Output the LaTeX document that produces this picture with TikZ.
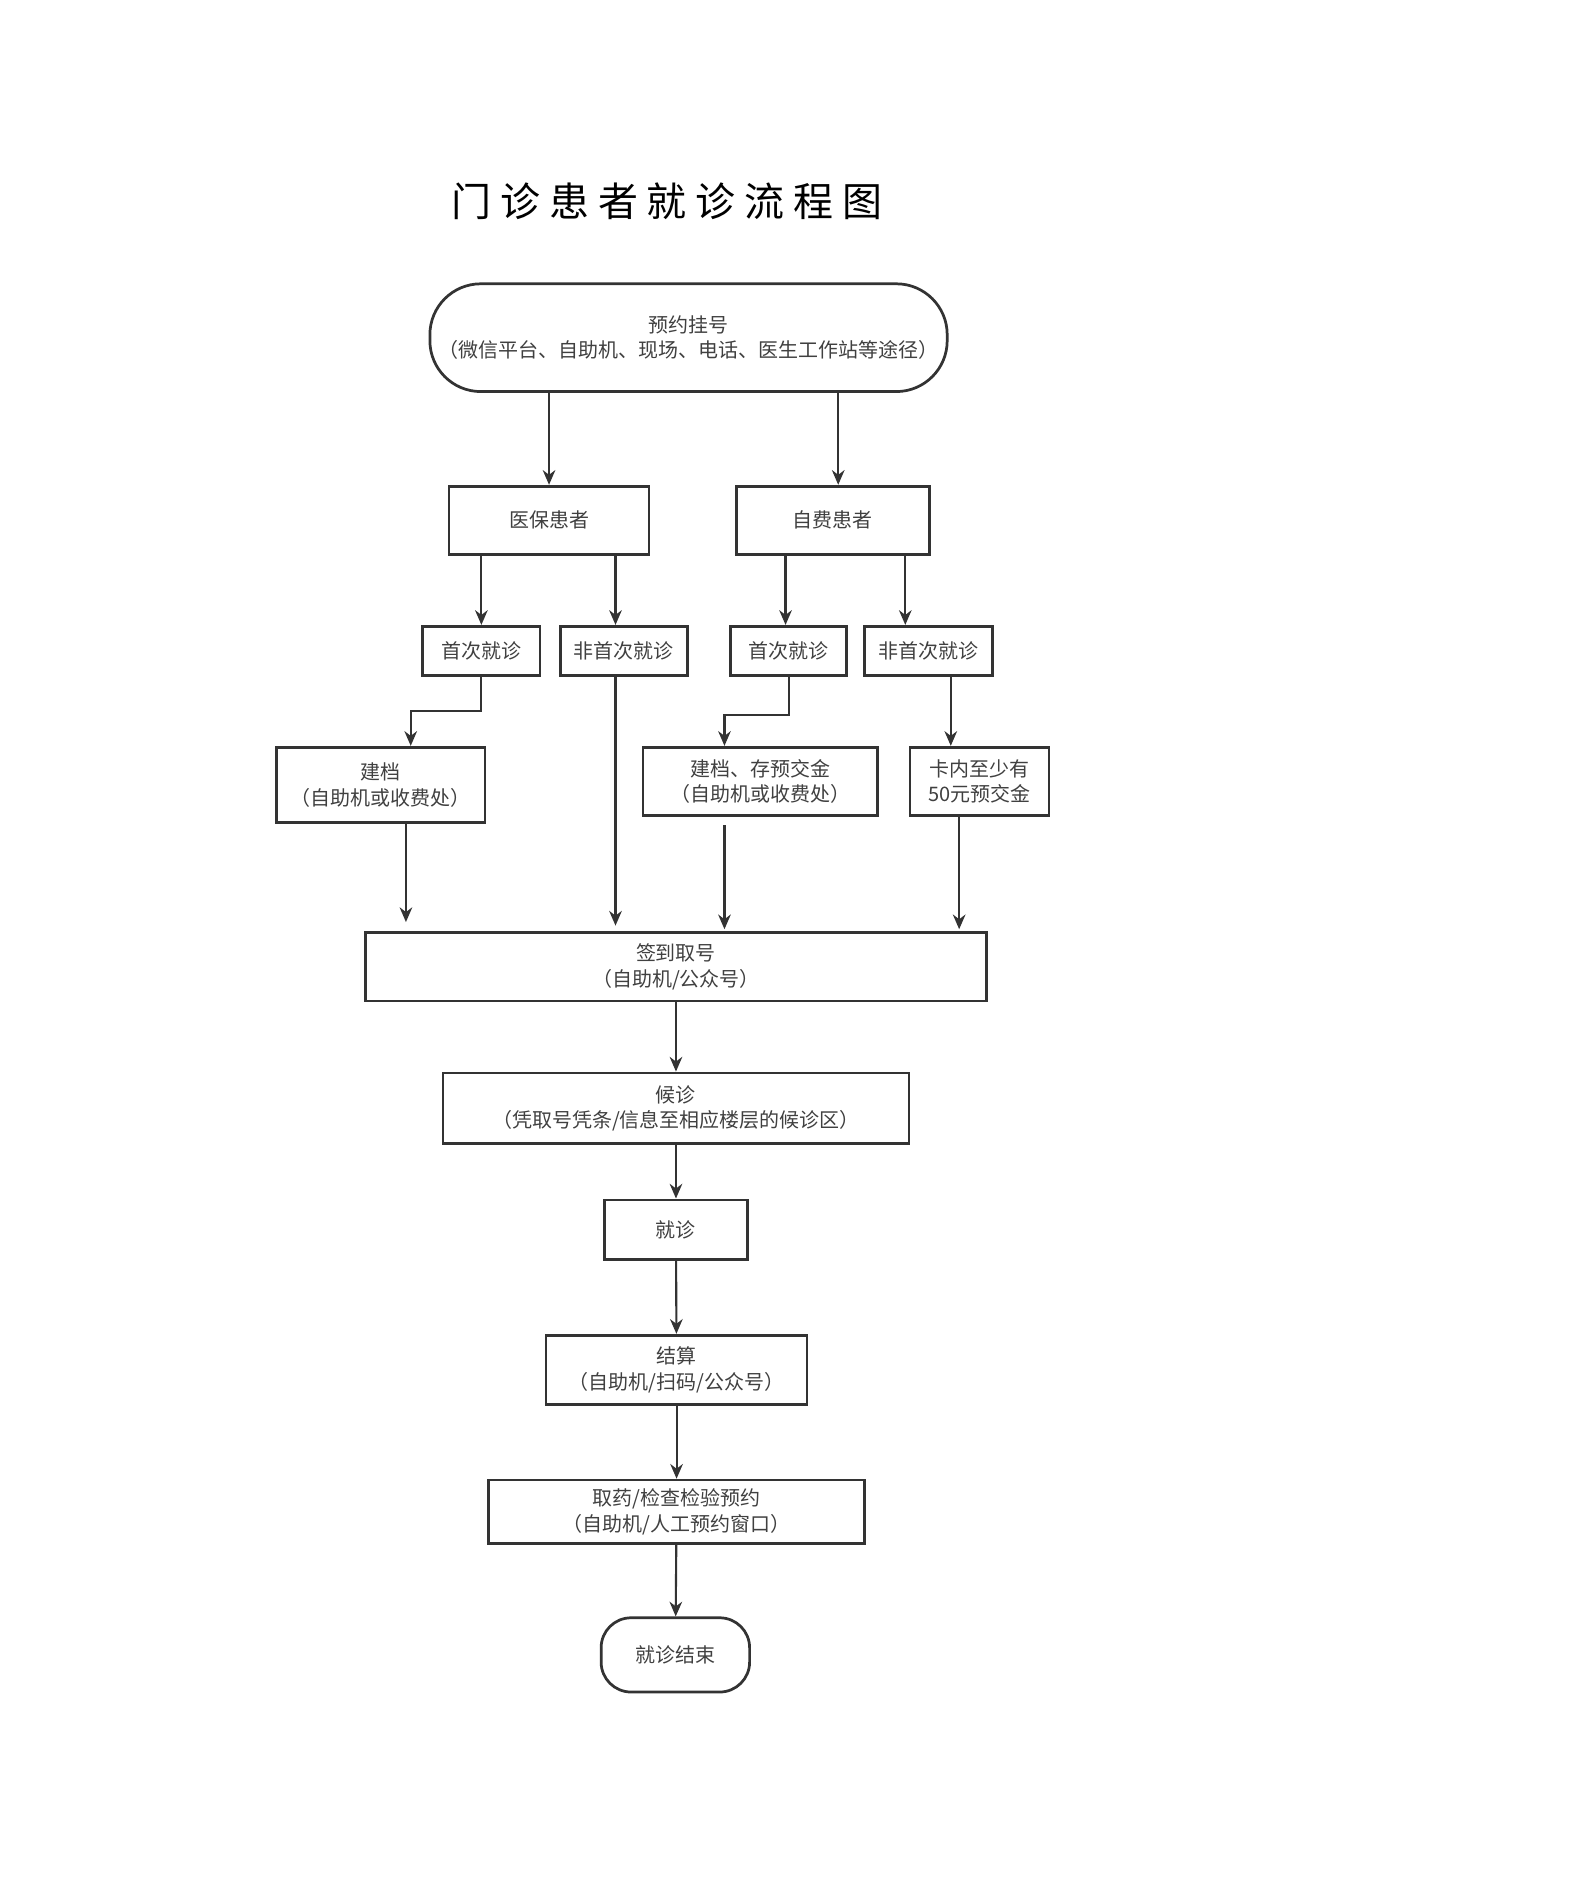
\documentclass[tikz,border=0pt]{standalone}
\usepackage{fontspec}
\newfontfamily\cjk{Noto Sans CJK SC}
\usetikzlibrary{arrows.meta}

\begin{document}
\begin{tikzpicture}
                \tikzset{x={(0.02cm, 0cm)}, y={(0cm, -0.02cm)}}
                \tikzset{box/.style={draw=black!80, line width=1.3pt, align=center, font=\cjk\fontsize{9.5}{12}\selectfont, text=black!75, inner sep=0pt},
                         flow/.style={draw=black!80, line width=1pt, -{Stealth[length=7pt,width=6pt]}}}
                \useasboundingbox (0, 0) rectangle (1325, 1575);
                \node[font=\cjk\fontsize{19}{22}\selectfont, text=black] (title) at (557, 168) {门 诊 患 者 就 诊 流 程 图};
                \node[box, minimum width=432*0.02cm, minimum height=90*0.02cm, rounded corners=0.85cm] (reg) at (575, 282) {预约挂号\\（微信平台、自助机、现场、电话、医生工作站等途径）};
                \node[box, minimum width=167*0.02cm, minimum height=57*0.02cm] (yb) at (458.5, 434.5) {医保患者};
                \node[box, minimum width=161*0.02cm, minimum height=57*0.02cm] (zf) at (695.5, 434.5) {自费患者};
                \node[box, minimum width=98*0.02cm, minimum height=41*0.02cm] (ybfirst) at (402, 543.5) {首次就诊};
                \node[box, minimum width=106*0.02cm, minimum height=41*0.02cm] (ybnext) at (521, 543.5) {非首次就诊};
                \node[box, minimum width=97*0.02cm, minimum height=41*0.02cm] (zffirst) at (658.5, 543.5) {首次就诊};
                \node[box, minimum width=107*0.02cm, minimum height=41*0.02cm] (zfnext) at (775.5, 543.5) {非首次就诊};
                \node[box, minimum width=174*0.02cm, minimum height=63*0.02cm] (ybfile) at (318, 655.5) {建档\\（自助机或收费处）};
                \node[box, minimum width=196*0.02cm, minimum height=57*0.02cm] (zffile) at (635, 652.5) {建档、存预交金\\（自助机或收费处）};
                \node[box, minimum width=116*0.02cm, minimum height=57*0.02cm] (card) at (818, 652.5) {卡内至少有\\50元预交金};
                \node[box, minimum width=519*0.02cm, minimum height=57*0.02cm] (sign) at (564.5, 807.5) {签到取号\\（自助机/公众号）};
                \node[box, minimum width=389*0.02cm, minimum height=59*0.02cm] (wait) at (564.5, 925.5) {候诊\\（凭取号凭条/信息至相应楼层的候诊区）};
                \node[box, minimum width=119*0.02cm, minimum height=50*0.02cm] (visit) at (564.5, 1027) {就诊};
                \node[box, minimum width=218*0.02cm, minimum height=58*0.02cm] (pay) at (565, 1144) {结算\\（自助机/扫码/公众号）};
                \node[box, minimum width=314*0.02cm, minimum height=53*0.02cm] (drug) at (565, 1262.5) {取药/检查检验预约\\（自助机/人工预约窗口）};
                \node[box, minimum width=124*0.02cm, minimum height=62*0.02cm, rounded corners=0.5cm] (done) at (564, 1382) {就诊结束};
                % connectors
                \draw[flow] (reg.south -| yb) -- (yb);
                \draw[flow] (700, 327) coordinate (a1) -- (a1 |- zf.north);
                \draw[flow] (ybfirst |- yb.south) -- (ybfirst);
                \draw[flow] (514, 463) coordinate (a2) -- (a2 |- ybnext.north);
                \draw[flow] (656, 463) coordinate (a3) -- (a3 |- zffirst.north);
                \draw[flow] (756, 463) coordinate (a4) -- (a4 |- zfnext.north);
                \draw[flow] (ybfirst.south) -- (402, 594) -- (343, 594) coordinate (b1) -- (b1 |- ybfile.north);
                \draw[flow] (659, 564) coordinate (b2) -- (659, 597) -- (605, 597) coordinate (b3) -- (b3 |- zffile.north);
                \draw[flow] (794, 564) coordinate (b4) -- (b4 |- card.north);
                \draw[flow] (339, 687) coordinate (c1) -- (339, 770);
                \draw[flow] (514, 564) coordinate (c2) -- (514, 773);
                \draw[flow] (605, 689) coordinate (c3) -- (605, 776);
                \draw[flow] (801, 681) coordinate (c4) -- (801, 776);
                \draw[flow] (sign) -- (wait);
                \draw[flow] (wait) -- (visit);
                \draw[flow] (visit) -- (pay);
                \draw[flow] (pay) -- (drug);
                \draw[flow] (drug) -- (done);
            \end{tikzpicture}
\end{document}
